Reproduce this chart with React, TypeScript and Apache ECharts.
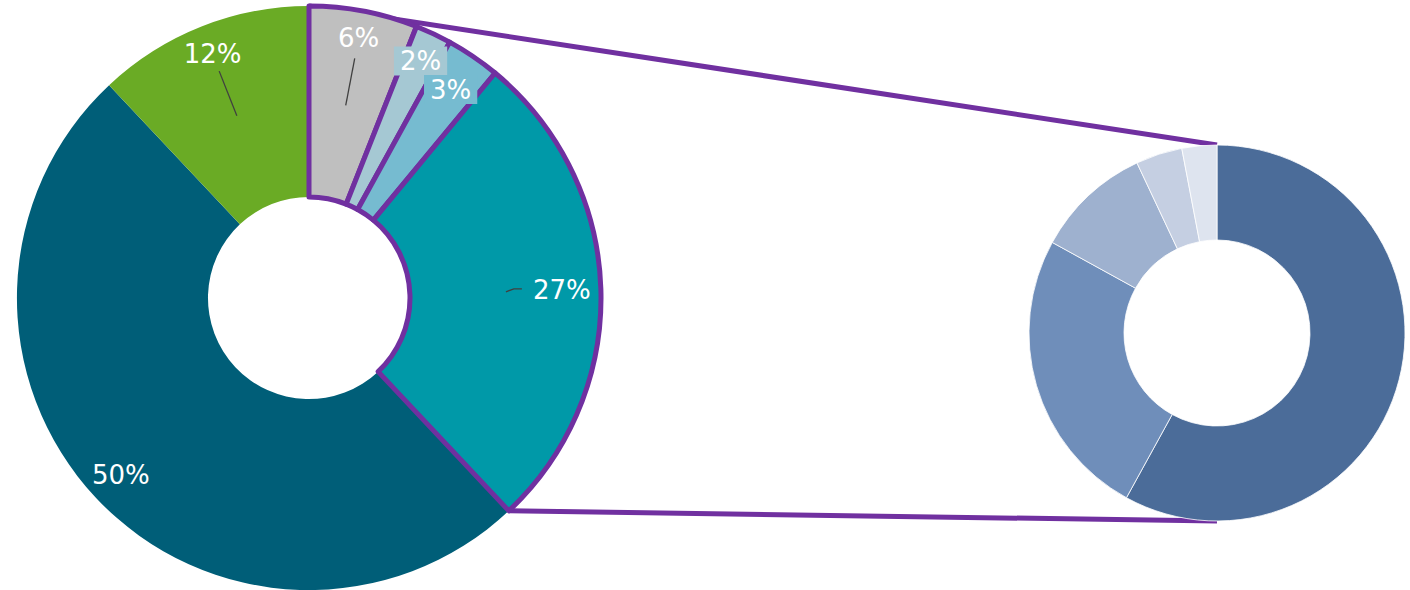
import React, { useEffect, useRef } from 'react';
import * as echarts from 'echarts';

// ---- data (main donut, clockwise from 12 o'clock) ----
const mainCategories = ['Grey', 'Pale blue', 'Light blue', 'Teal', 'Dark teal', 'Green'];
const mainValues = [6, 2, 3, 27, 50, 12];
const mainColors = ['#bfbfbf', '#a5c8d3', '#76bbd0', '#0099a8', '#005e78', '#6aab25'];
const highlighted = [true, true, true, true, false, false];
const boxedLabels = [false, true, true, false, false, false];

// ---- data (detail donut, clockwise from 12 o'clock) ----
const detailCategories = ['D1', 'D2', 'D3', 'D4', 'D5'];
const detailValues = [58, 25, 10, 4, 3];
const detailColors = ['#4b6c99', '#6f8eba', '#9eb1cf', '#c5cfe2', '#dee4ef'];

// ---- layout ----
const MAIN_CENTER = [309, 298];
const MAIN_RADIUS = [101, 292];
const DETAIL_CENTER = [1217, 333];
const DETAIL_RADIUS = [93, 188];
const LABEL_RADIUS = [265, 262, 252, 253, 258, 262];
const LEADER = ['radial', null, null, 'elbow', null, 'radial'];
const PURPLE = '#7030a0';
const FONT = 'DejaVu Sans, Verdana, sans-serif';

function pt(c: number[], r: number, deg: number): number[] {
  const a = (deg * Math.PI) / 180;
  return [c[0] + r * Math.sin(a), c[1] - r * Math.cos(a)];
}

export default function App() {
  const ref = useRef<HTMLDivElement>(null);

  useEffect(() => {
    if (!ref.current) return;
    const chart = echarts.init(ref.current, null, { renderer: 'svg' });

    const total = mainValues.reduce((a, b) => a + b, 0);
    const start: number[] = [];
    const end: number[] = [];
    const mid: number[] = [];
    let acc = 0;
    mainValues.forEach((v) => {
      start.push((acc / total) * 360);
      acc += v;
      end.push((acc / total) * 360);
      mid.push((start[start.length - 1] + end[end.length - 1]) / 2);
    });

    // draw non-highlighted slices first so purple borders stay on top
    const firstHi = highlighted.indexOf(true);
    const lastHi = highlighted.lastIndexOf(true);
    const order: number[] = [];
    for (let k = 0; k < mainValues.length; k++) order.push((lastHi + 1 + k) % mainValues.length);
    const startAngle = (((90 - start[order[0]]) % 360) + 360) % 360;

    const mainData = order.map((i) => ({
      name: mainCategories[i],
      value: mainValues[i],
      itemStyle: {
        color: mainColors[i],
        borderColor: highlighted[i] ? PURPLE : mainColors[i],
        borderWidth: highlighted[i] ? 5 : 0,
      },
      label: boxedLabels[i]
        ? { backgroundColor: mainColors[i], padding: [1, 6], lineHeight: 27 }
        : {},
    }));

    const detailData = detailValues.map((v, i) => ({
      name: detailCategories[i],
      value: v,
      itemStyle: { color: detailColors[i] },
    }));

    // connectors
    const topA = pt(MAIN_CENTER, MAIN_RADIUS[1], start[firstHi]);
    const topB = pt(DETAIL_CENTER, DETAIL_RADIUS[1], 0);
    const botA = pt(MAIN_CENTER, MAIN_RADIUS[1], end[lastHi]);
    const botB = pt(DETAIL_CENTER, DETAIL_RADIUS[1], 180);

    const graphics: any[] = [
      {
        type: 'line',
        z: 0,
        shape: { x1: topA[0], y1: topA[1], x2: topB[0], y2: topB[1] },
        style: { stroke: PURPLE, lineWidth: 5 },
      },
      {
        type: 'line',
        z: 0,
        shape: { x1: botA[0], y1: botA[1], x2: botB[0], y2: botB[1] },
        style: { stroke: PURPLE, lineWidth: 5 },
      },
    ];
    LEADER.forEach((kind, i) => {
      if (kind === 'radial') {
        const a = pt(MAIN_CENTER, 196, mid[i]);
        const b = pt(MAIN_CENTER, 244, mid[i]);
        graphics.push({
          type: 'line',
          z: 10,
          shape: { x1: a[0], y1: a[1], x2: b[0], y2: b[1] },
          style: { stroke: '#404040', lineWidth: 1.3 },
        });
      } else if (kind === 'elbow') {
        const a = pt(MAIN_CENTER, 197, mid[i]);
        graphics.push({
          type: 'polyline',
          z: 10,
          shape: { points: [a, [a[0] + 8, a[1] - 3], [a[0] + 16, a[1] - 3]] },
          style: { stroke: '#404040', lineWidth: 1.3, fill: null },
        });
      }
    });

    chart.setOption({
      animation: false,
      backgroundColor: '#ffffff',
      series: [
        {
          type: 'pie',
          name: 'main',
          center: MAIN_CENTER,
          radius: MAIN_RADIUS,
          startAngle,
          clockwise: true,
          avoidLabelOverlap: false,
          silent: true,
          label: {
            show: true,
            position: 'inside',
            color: '#ffffff',
            fontFamily: FONT,
            fontSize: 26,
            formatter: (p: any) => p.value + '%',
          },
          labelLine: { show: false },
          labelLayout: (params: any) => {
            const i = order[params.dataIndex];
            const p = pt(MAIN_CENTER, LABEL_RADIUS[i], mid[i]);
            return { x: p[0], y: p[1], align: 'center', verticalAlign: 'middle' };
          },
          data: mainData,
        },
        {
          type: 'pie',
          name: 'detail',
          center: DETAIL_CENTER,
          radius: DETAIL_RADIUS,
          startAngle: 90,
          clockwise: true,
          silent: true,
          label: { show: false },
          labelLine: { show: false },
          itemStyle: { borderColor: '#ffffff', borderWidth: 0.8 },
          data: detailData,
        },
      ],
      graphic: graphics,
    });

    return () => chart.dispose();
  }, []);

  return (
    <div
      ref={ref}
      style={{ position: 'absolute', left: 0, top: 0, width: 1410, height: 590 }}
    />
  );
}
